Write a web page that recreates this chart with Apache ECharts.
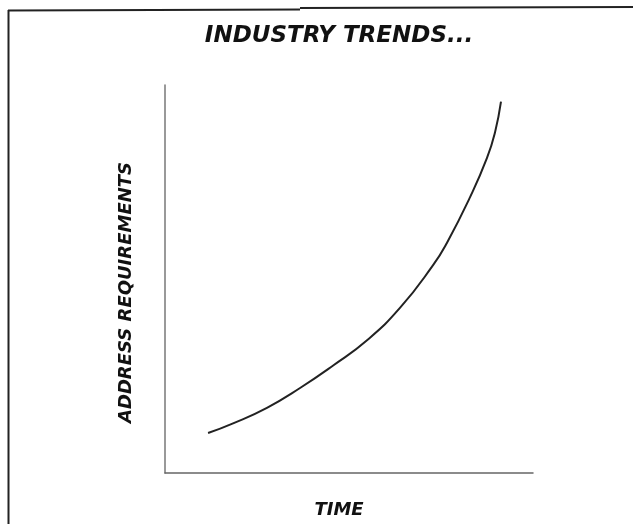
<!DOCTYPE html>
<html>
<head>
<meta charset="utf-8">
<script src="https://cdn.jsdelivr.net/npm/echarts@6/dist/echarts.min.js"></script>
<style>
html,body{margin:0;padding:0;background:#fff;}
#c{width:633px;height:524px;}
</style>
</head>
<body>
<div id="c"></div>
<script>
var titleText = "INDUSTRY TRENDS...";
var xAxisName = "TIME";
var yAxisName = "ADDRESS REQUIREMENTS";
var timeValues = [11.7, 18.5, 27.7, 36.7, 45.7, 54.9, 63.9, 72.8, 76.6, 82.9, 87.5, 89.7, 91.3];
var requirementValues = [10.3, 12.8, 16.8, 21.9, 27.7, 34.2, 42.6, 53.5, 59.3, 71.1, 81.2, 87.9, 95.7];

var data = timeValues.map(function (t, i) { return [t, requirementValues[i]]; });
var font = "'DejaVu Sans', sans-serif";

var chart = echarts.init(document.getElementById('c'), null, {renderer: 'canvas'});
chart.setOption({
  backgroundColor: '#ffffff',
  animation: false,
  title: {
    text: titleText,
    left: 334,
    top: 20,
    textAlign: 'center',
    textStyle: {fontFamily: font, fontSize: 23, fontWeight: 900, fontStyle: 'italic', color: '#111'}
  },
  grid: {left: 165, right: 100, top: 85, bottom: 41, containLabel: false},
  xAxis: {
    type: 'value', min: 0, max: 100,
    name: xAxisName, nameLocation: 'middle', nameGap: 28,
    nameTextStyle: {fontFamily: font, fontSize: 18, fontWeight: 900, fontStyle: 'italic', color: '#111', padding: [0, 20, 0, 0]},
    axisLine: {show: true, lineStyle: {color: '#666', width: 1.5}},
    axisTick: {show: false}, axisLabel: {show: false}, splitLine: {show: false}
  },
  yAxis: {
    type: 'value', min: 0, max: 100,
    name: yAxisName, nameLocation: 'middle', nameGap: 30,
    nameTextStyle: {fontFamily: font, fontSize: 18, fontWeight: 900, fontStyle: 'italic', color: '#111', padding: [0, 27, 0, 0]},
    axisLine: {show: true, lineStyle: {color: '#777', width: 1.5}},
    axisTick: {show: false}, axisLabel: {show: false}, splitLine: {show: false}
  },
  graphic: [
    {type: 'line', shape: {x1: 8.5, y1: 524, x2: 8.5, y2: 10}, style: {stroke: '#222', lineWidth: 2}},
    {type: 'line', shape: {x1: 8, y1: 10.5, x2: 300, y2: 9.5}, style: {stroke: '#222', lineWidth: 2}},
    {type: 'line', shape: {x1: 300, y1: 8, x2: 633, y2: 7}, style: {stroke: '#222', lineWidth: 2}}
  ],
  series: [{
    type: 'line',
    data: data,
    smooth: 0.5,
    symbol: 'none',
    lineStyle: {color: '#222', width: 2}
  }]
});
</script>
</body>
</html>
